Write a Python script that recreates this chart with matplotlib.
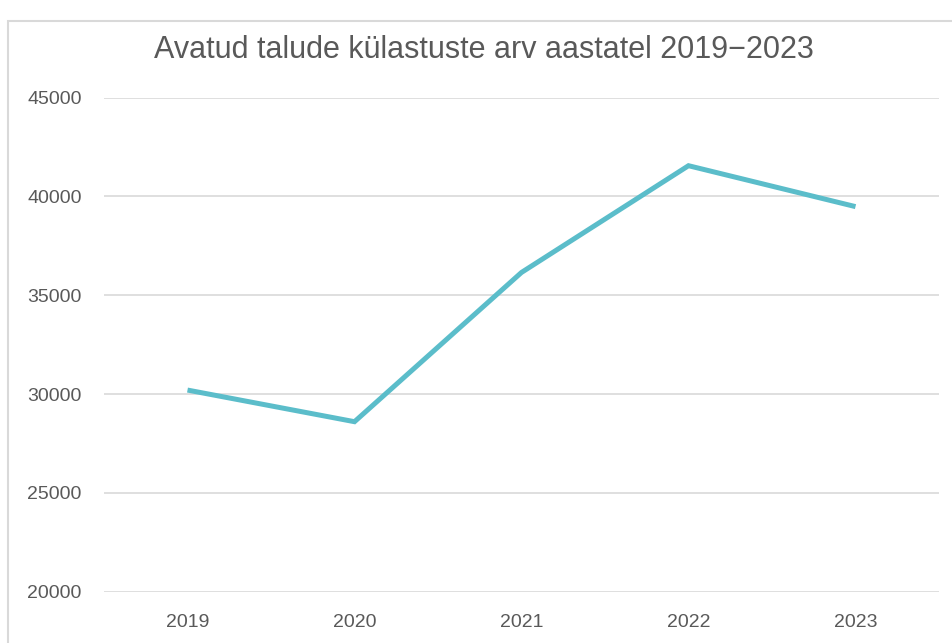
import matplotlib.pyplot as plt
from matplotlib.patches import Rectangle

# Data
years = ["2019", "2020", "2021", "2022", "2023"]
visits = [30200, 28600, 36150, 41550, 39480]
y_ticks = [20000, 25000, 30000, 35000, 40000, 45000]

plt.rcParams['font.family'] = ['Liberation Sans', 'DejaVu Sans']

text_col = '#595959'
line_col = '#5BBDCA'

fig = plt.figure(figsize=(9.53, 6.43), dpi=100)
ax = fig.add_axes([104 / 953, 1 - 591.7 / 643, (939 - 104) / 953, (591.7 - 97.5) / 643])

# light frame round the chart area
fig.patches.append(Rectangle((8 / 953, -0.05), 1.2, 1 - 21 / 643 + 0.05,
                             transform=fig.transFigure, fill=False,
                             edgecolor='#D9D9D9', linewidth=1.5))

x = range(len(years))
ax.plot(x, visits, color=line_col, linewidth=3.6, solid_capstyle='butt',
        solid_joinstyle='miter', zorder=3)

ax.set_xlim(-0.5, len(years) - 0.5)
ax.set_ylim(20000, 45000)
ax.set_yticks(y_ticks)
ax.set_yticklabels([str(v) for v in y_ticks])
ax.set_xticks(list(x))
ax.set_xticklabels(years)
ax.grid(axis='y', color='#D9D9D9', linewidth=1.2)
ax.set_axisbelow(True)
for s in ax.spines.values():
    s.set_visible(False)
ax.tick_params(axis='both', length=0, colors=text_col, labelsize=14)
ax.tick_params(axis='y', pad=16)
ax.tick_params(axis='x', pad=16)

fig.text(484 / 953, 1 - 50 / 643, "Avatud talude külastuste arv aastatel 2019\u22122023",
         ha='center', va='center', fontsize=22, color=text_col)

fig.savefig('out.png', dpi=100)
